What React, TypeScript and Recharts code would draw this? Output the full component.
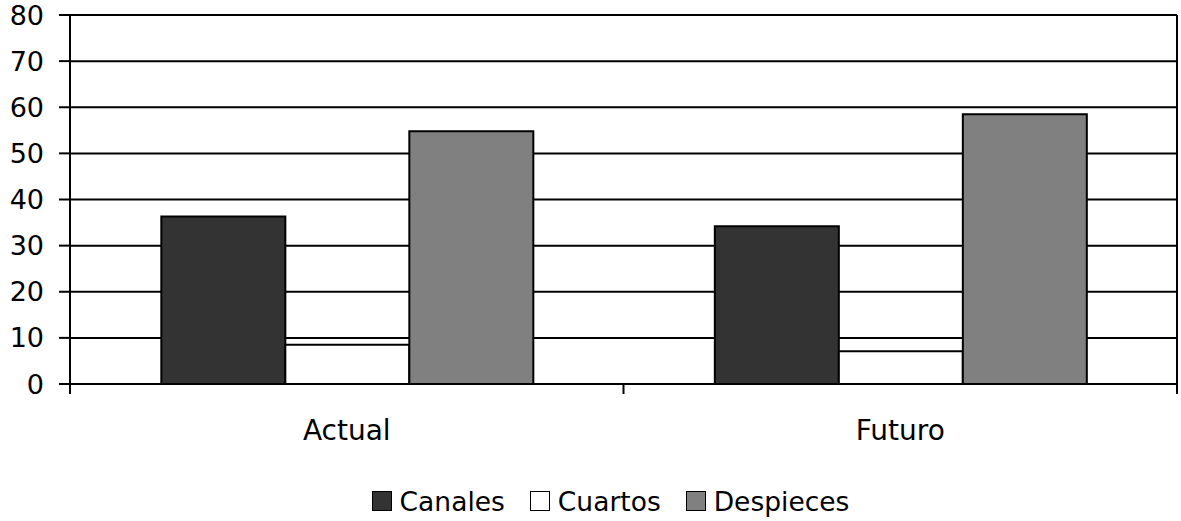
import { BarChart, Bar, XAxis, YAxis, CartesianGrid, Legend, ReferenceLine } from 'recharts';

const CATEGORIES = ['Actual', 'Futuro'];
const CANALES = [36.3, 34.2];
const CUARTOS = [8.5, 7.1];
const DESPIECES = [54.8, 58.5];
const Y_TICKS = [0, 10, 20, 30, 40, 50, 60, 70, 80];
const EDGE_TICKS = [0, 1, 2];

const SERIES = [
    { key: 'Canales', fill: '#333333' },
    { key: 'Cuartos', fill: '#ffffff' },
    { key: 'Despieces', fill: '#808080' },
];

const data = CATEGORIES.map((name, i) => ({
    name,
    pos: i + 0.5,
    Canales: CANALES[i],
    Cuartos: CUARTOS[i],
    Despieces: DESPIECES[i],
}));

const FONT = '"DejaVu Sans", Verdana, sans-serif';

function LegendBox() {
    return (
        <div style={{ display: 'flex', justifyContent: 'center', alignItems: 'center', height: 44, paddingLeft: 44, paddingTop: 4, boxSizing: 'border-box', fontFamily: FONT, fontSize: 26.5, color: '#000' }}>
            {SERIES.map((s, i) => (
                <div key={s.key} style={{ display: 'flex', alignItems: 'center', marginLeft: i === 0 ? 0 : 25 }}>
                    <span style={{ width: 18, height: 18, background: s.fill, border: '1.5px solid #000', marginRight: 8 }} />
                    <span>{s.key}</span>
                </div>
            ))}
        </div>
    );
}

export default function App() {
    return (
        <div style={{ width: 1181, height: 521, background: '#fff' }}>
            <style>{'body{margin:0}'}</style>
            <BarChart
                width={1181}
                height={521}
                data={data}
                margin={{ top: 15, right: 4, left: 0, bottom: 0 }}
                barCategoryGap="16.5%"
                barGap={0}
            >
                <CartesianGrid xAxisId="b-cat" yAxisId="left" vertical={false} stroke="#000" strokeWidth={2} />
                {/* edge axis: only the baseline and the ticks between categories */}
                <XAxis
                    xAxisId="a-edge"
                    dataKey="pos"
                    type="number"
                    domain={[0, 2]}
                    allowDataOverflow
                    ticks={EDGE_TICKS}
                    interval={0}
                    tick={() => <g />}
                    height={1}
                    tickSize={10}
                    axisLine={{ stroke: '#000', strokeWidth: 2 }}
                    tickLine={{ stroke: '#000', strokeWidth: 2 }}
                />
                <XAxis
                    xAxisId="b-cat"
                    dataKey="name"
                    height={92}
                    axisLine={false}
                    tickLine={false}
                    tickSize={0}
                    tickMargin={35}
                    tick={{ fill: '#000', fontSize: 28, fontFamily: FONT }}
                />
                <YAxis
                    yAxisId="left"
                    domain={[0, 80]}
                    ticks={Y_TICKS}
                    interval={0}
                    width={70}
                    tickSize={11}
                    tickMargin={15}
                    axisLine={{ stroke: '#000', strokeWidth: 2 }}
                    tickLine={{ stroke: '#000', strokeWidth: 2 }}
                    tick={{ fill: '#000', fontSize: 27, fontFamily: FONT }}
                />
                <ReferenceLine xAxisId="a-edge" yAxisId="left" x={2} stroke="#000" strokeWidth={2} />
                <Legend verticalAlign="bottom" content={<LegendBox />} />
                {SERIES.map(s => (
                    <Bar
                        key={s.key}
                        xAxisId="b-cat"
                        yAxisId="left"
                        dataKey={s.key}
                        fill={s.fill}
                        stroke="#000"
                        strokeWidth={2}
                        isAnimationActive={false}
                    />
                ))}
            </BarChart>
        </div>
    );
}
